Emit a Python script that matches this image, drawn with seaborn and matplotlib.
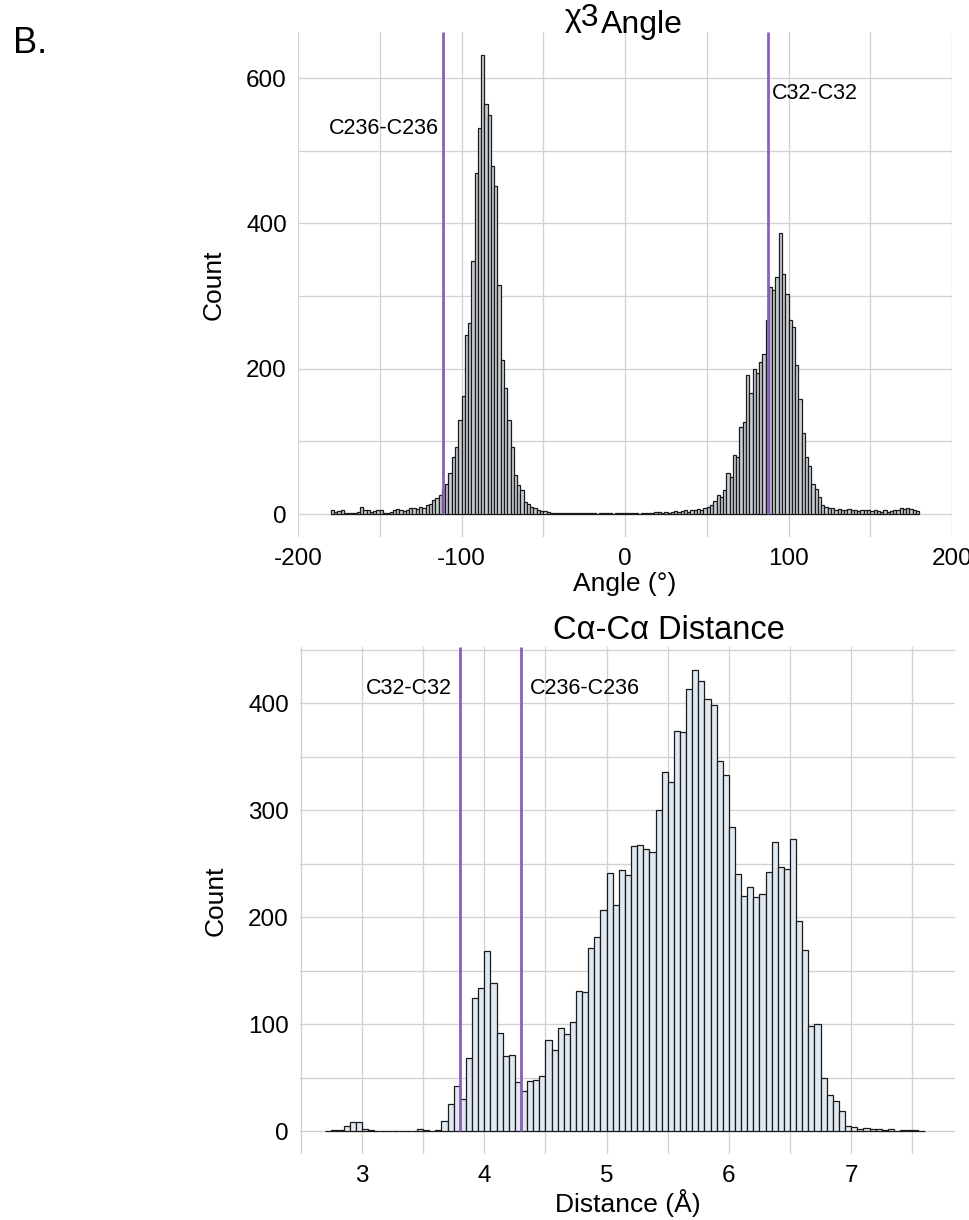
import numpy as np
import pandas as pd
import matplotlib
matplotlib.use("Agg")
import matplotlib.pyplot as plt
import matplotlib.transforms as mtransforms
import seaborn as sns

# ---------------- data ----------------
# chi3 angle histogram: bins of 2 degrees starting at -180
angle_bin_start = -180.0
angle_bin_width = 2.0
angle_counts = [
    5, 3, 4, 6, 2, 1, 2, 2, 3, 10, 5, 5, 3, 4, 6, 5, 2, 2, 3, 6,
    7, 6, 4, 5, 8, 9, 7, 10, 8, 12, 14, 19, 22, 26,
    34, 42, 56, 79, 92, 129, 162, 246, 263, 348, 470, 531, 632, 564, 549, 479,
    452, 315, 212, 174, 129, 92, 54, 40, 33, 17, 14, 10, 8, 6, 4,
    4, 3, 2, 2, 1, 2, 1, 1, 2, 1, 1, 2, 1, 1, 1, 1, 0, 1, 1, 1, 1, 0, 1, 2, 1,
    2, 1, 1, 1, 0, 1, 1, 1, 2, 3, 3, 2, 3, 2, 3, 4, 3, 4, 5, 3, 6, 5, 7, 6, 9,
    10, 12, 18, 26, 24, 33, 57, 51, 81, 79, 120, 127, 191, 166, 200, 194, 209,
    221, 267, 313, 309, 327, 387, 331, 303, 267, 258, 205, 158, 111, 79, 66,
    42, 35, 24, 12, 10,
    8, 8, 6, 7, 5, 6, 7, 5, 6, 4, 6, 5, 6, 4, 5, 4, 3, 5, 3, 4, 6, 5, 8, 7,
    9, 7, 6, 4,
]

# Calpha-Calpha distance histogram: bins of 0.05 A starting at 2.70
dist_bin_start = 2.70
dist_bin_width = 0.05
dist_counts = [
    0, 1, 1, 5, 8, 8, 2, 1, 0, 0, 0, 0, 0, 0, 0, 2,
    1, 0, 1, 9, 25, 42, 30, 68, 124, 134, 168, 138, 92, 70, 71, 46, 37, 47, 48, 51,
    85, 76, 96, 91, 102, 131, 130, 171, 181, 207, 241, 211, 244, 239, 266, 267,
    264, 261, 300, 336,
    326, 374, 373, 413, 431, 421, 404, 398, 346, 333, 284, 240, 220, 228, 219,
    222, 242, 270, 247, 245,
    273, 196, 169, 98, 100, 50, 34, 28, 19, 5, 4, 2, 3, 2, 2, 1, 2, 0, 1, 1, 1, 0,
]

# reference structures (vertical lines)
angle_ref_labels = ["C236-C236", "C32-C32"]
angle_ref_values = [-111.5, 87.3]
dist_ref_labels = ["C32-C32", "C236-C236"]
dist_ref_values = [3.80, 4.30]

# tick labels
angle_xticks = [-200, -100, 0, 100, 200]
angle_yticks = [0, 200, 400, 600]
dist_xticks = [3, 4, 5, 6, 7]
dist_yticks = [0, 100, 200, 300, 400]

# ---------------- style ----------------
sns.set_style("white")
plt.rcParams["font.family"] = ["Liberation Sans", "DejaVu Sans"]
plt.rcParams["text.color"] = "black"
plt.rcParams["axes.labelcolor"] = "black"
plt.rcParams["xtick.color"] = "black"
plt.rcParams["ytick.color"] = "black"

FILL_TOP = "#c8cfd4"
FILL_BOTTOM = "#e0e9f1"
EDGE = "#1a1a1a"
PURPLE = "#8c5fb8"
GRID = "#d2d2d2"

fig = plt.figure(figsize=(9.7, 12.2), dpi=100)
W, H = 970.0, 1220.0
ax1 = fig.add_axes([298 / W, 1 - 537 / H, 654 / W, 505 / H])
ax2 = fig.add_axes([300 / W, 1 - 1154 / H, 655 / W, 507 / H])


def hist(ax, start, width, counts, fill):
    n = len(counts)
    edges = start + width * np.arange(n + 1)
    centers = edges[:-1] + width / 2.0
    df = pd.DataFrame({"value": centers, "count": counts})
    sns.histplot(data=df, x="value", weights="count", bins=[float(e) for e in edges],
                 ax=ax, color=fill, edgecolor=EDGE, linewidth=0.9, alpha=1.0,
                 zorder=2)


def style(ax, xticks, yticks, xlim, ylim):
    ax.set_xticks(xticks)
    ax.set_yticks(yticks)
    xt = np.array(xticks, dtype=float)
    yt = np.array(yticks, dtype=float)
    xm = list((xt[:-1] + xt[1:]) / 2) + [xt[0] - (xt[1] - xt[0]) / 2, xt[-1] + (xt[1] - xt[0]) / 2]
    ym = list((yt[:-1] + yt[1:]) / 2) + [yt[-1] + (yt[1] - yt[0]) / 2]
    ax.set_xticks(xm, minor=True)
    ax.set_yticks(ym, minor=True)
    ax.set_xticklabels([str(t) for t in xticks])
    ax.set_yticklabels([str(t) for t in yticks])
    ax.grid(True, which="both", color=GRID, linewidth=0.95)
    ax.set_axisbelow(True)
    for s in ax.spines.values():
        s.set_visible(False)
    ax.tick_params(which="major", length=4.2, width=0.9, color="#444444",
                   labelsize=17.5, pad=3.8, labelcolor="black")
    ax.tick_params(which="minor", length=0)
    ax.set_xlim(*xlim)
    ax.set_ylim(*ylim)


# ---- top: chi3 angle ----
hist(ax1, angle_bin_start, angle_bin_width, angle_counts, FILL_TOP)
style(ax1, angle_xticks, angle_yticks, (-200, 200), (-31.6, 663.6))
ax1.vlines(angle_ref_values, 0, 663.6, colors=PURPLE, linewidth=2.0, zorder=3)
ax1.annotate(angle_ref_labels[0], xy=(angle_ref_values[0], 523), xytext=(-2.6, 0),
             textcoords="offset points", ha="right", va="baseline", fontsize=15.5)
ax1.annotate(angle_ref_labels[1], xy=(angle_ref_values[1], 571), xytext=(2.9, 0),
             textcoords="offset points", ha="left", va="baseline", fontsize=15.5)
raise_tr = ax1.transAxes + mtransforms.ScaledTranslation(0, 5 / 72, fig.dpi_scale_trans)
ax1.text(0.4602, 1.0 - 1 / 505, "χ3", transform=raise_tr,
         ha="right", va="baseline", fontsize=23)
ax1.text(0.4633, 1.0 - 1 / 505, "Angle", transform=ax1.transAxes,
         ha="left", va="baseline", fontsize=23)
ax1.set_xlabel("Angle (°)", fontsize=19, labelpad=1.5)
ax1.set_ylabel("Count", fontsize=19, labelpad=15)

# ---- bottom: Calpha-Calpha distance ----
hist(ax2, dist_bin_start, dist_bin_width, dist_counts, FILL_BOTTOM)
style(ax2, dist_xticks, dist_yticks, (2.493, 7.849), (-21.5, 452.5))
ax2.vlines(dist_ref_values, 0, 452.5, colors=PURPLE, linewidth=2.0, zorder=3)
ax2.annotate(dist_ref_labels[0], xy=(dist_ref_values[0], 409), xytext=(-6, 0),
             textcoords="offset points", ha="right", va="baseline", fontsize=15.5)
ax2.annotate(dist_ref_labels[1], xy=(dist_ref_values[1], 409), xytext=(6.3, 0),
             textcoords="offset points", ha="left", va="baseline", fontsize=15.5)
ax2.text(0.3863, 1.0 + 8 / 507, "Cα-Cα Distance", transform=ax2.transAxes,
         ha="left", va="baseline", fontsize=23.5)
ax2.set_xlabel("Distance (Å)", fontsize=19, labelpad=1.5)
ax2.set_ylabel("Count", fontsize=19, labelpad=15)

fig.text(13 / W, 1 - 53 / H, "B.", fontsize=26, ha="left", va="baseline")

fig.savefig("out.png", dpi=100)
